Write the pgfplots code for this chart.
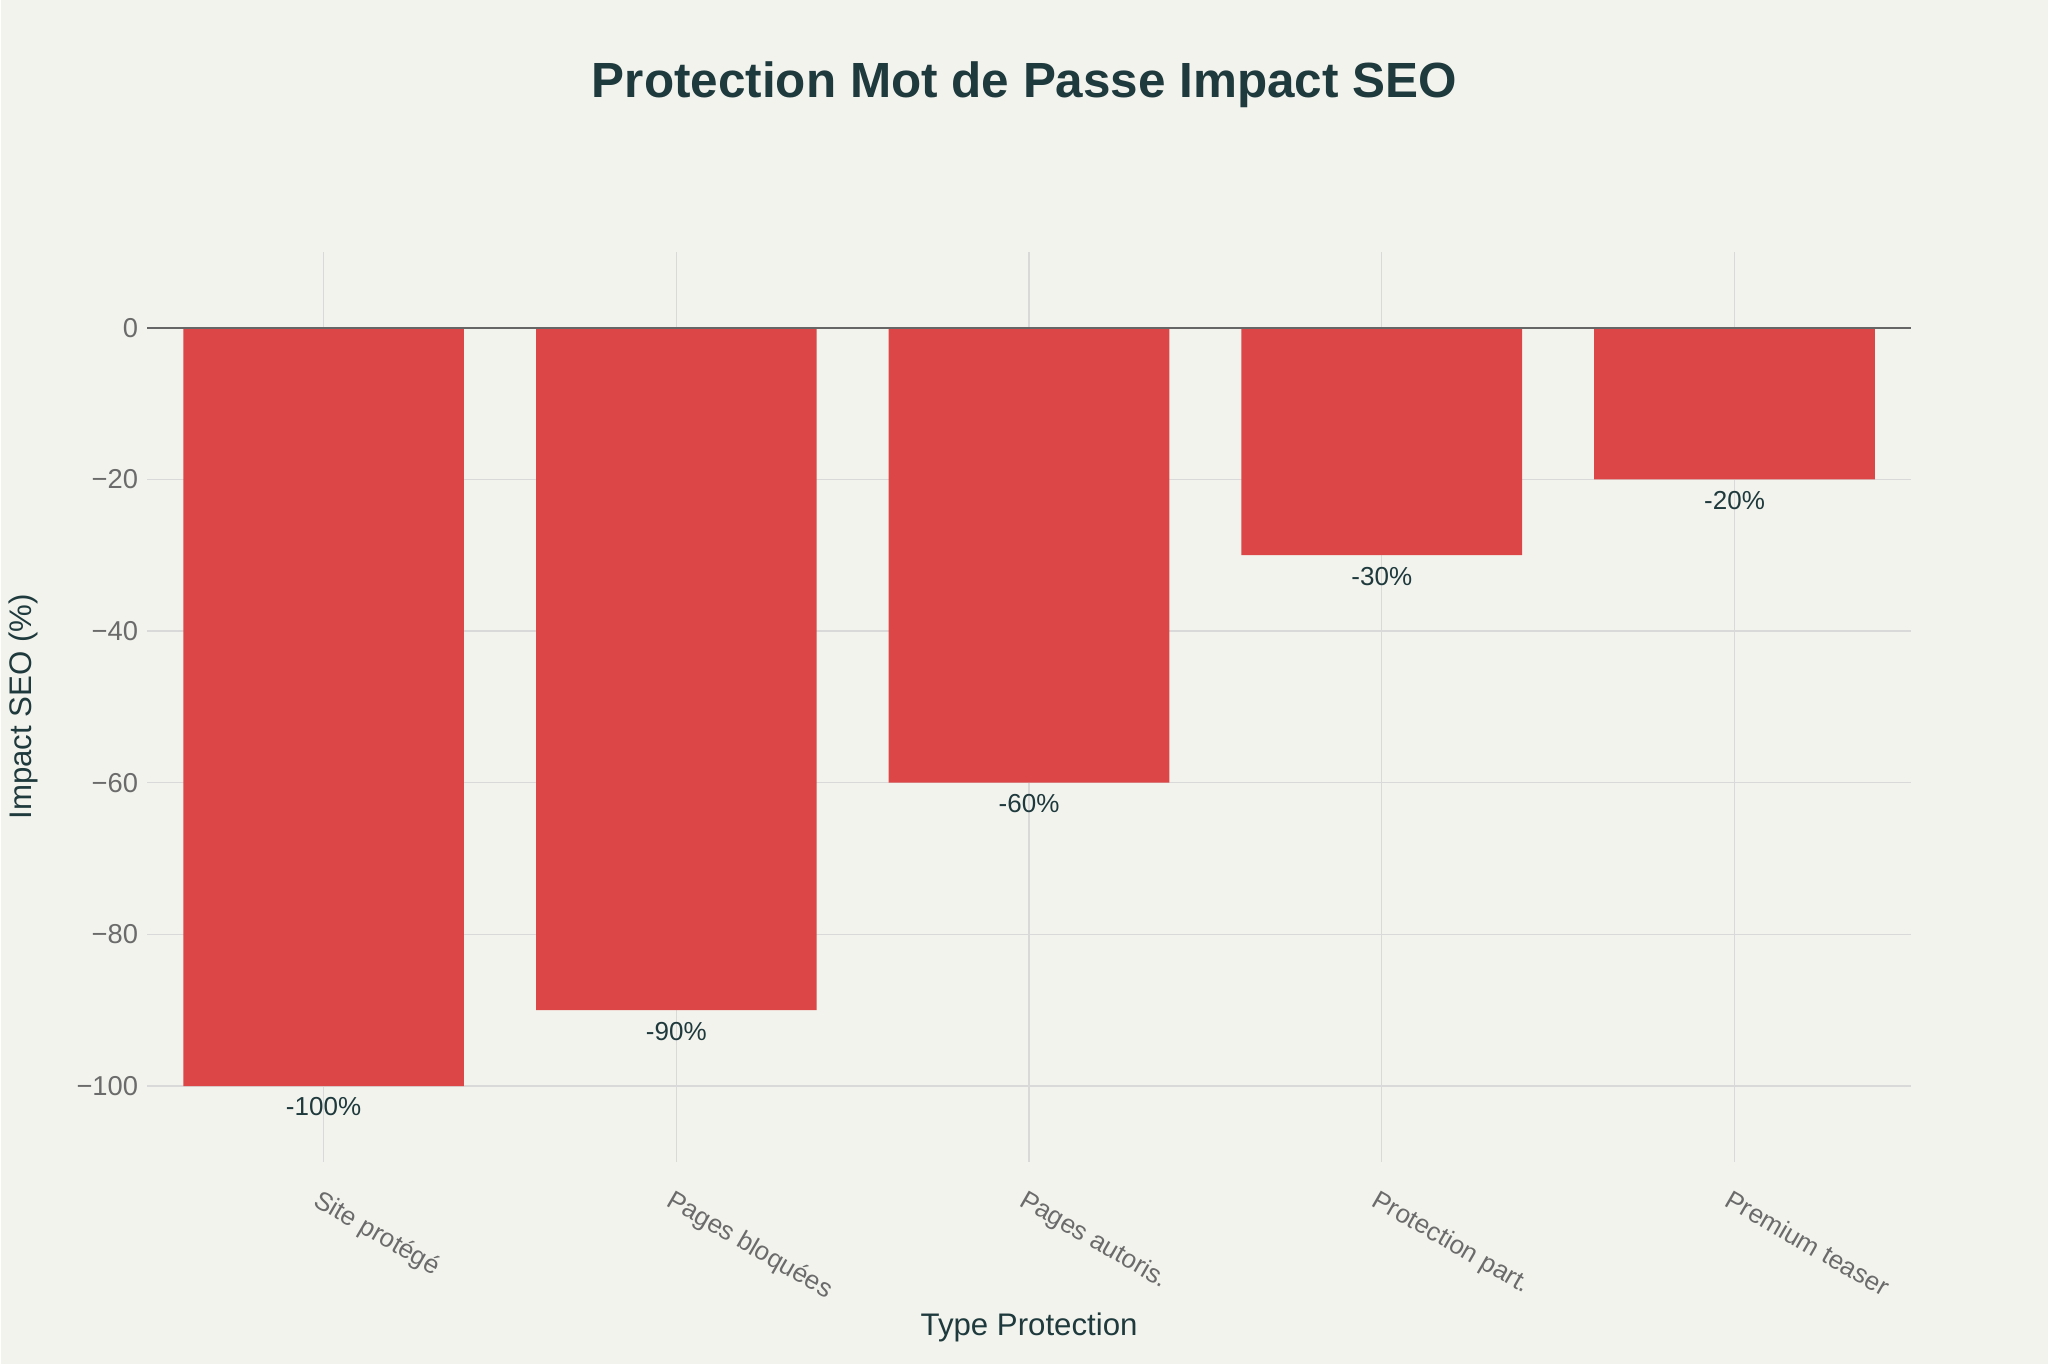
\documentclass[border=0pt]{standalone}
\usepackage{pgfplots}
\pgfplotsset{compat=1.18}
\usepackage{fontspec}
\setmainfont{Liberation Sans}
\definecolor{bg}{HTML}{F3F3EE}
\definecolor{barc}{HTML}{DC4646}
\definecolor{ttl}{HTML}{1F3A3D}
\definecolor{tick}{HTML}{6B6B6B}
\begin{document}
\begin{tikzpicture}[x=1bp,y=1bp]
\fill[bg] (0,0) rectangle (784,522.5);
\node[font=\bfseries\fontsize{19}{22}\selectfont,text=ttl] at (392,490) {Protection Mot de Passe Impact SEO};
\begin{axis}[at={(56bp,77.5bp)},anchor=south west,scale only axis,
 width=675.5bp,height=348.5bp,
 xmin=-0.5,xmax=4.5,ymin=-110,ymax=10,
 axis line style={draw=none},tick style={draw=none},
 ybar,bar width=107.5bp,
 xtick={0,1,2,3,4},
 xticklabels={Site protégé,Pages bloquées,Pages autoris.,Protection part.,Premium teaser},
 xticklabel style={rotate=-30,anchor=north west,font=\fontsize{10}{12}\selectfont,text=tick,xshift=-1bp,yshift=-2bp},
 ytick={-100,-80,-60,-40,-20,0},
 yticklabels={−100,−80,−60,−40,−20,0},
 yticklabel style={font=\fontsize{10.5}{12}\selectfont,text=tick},
 grid=major,major grid style={color=black!15,line width=0.5pt},
 point meta=explicit symbolic,
 nodes near coords,
 every node near coord/.append style={font=\fontsize{10}{12}\selectfont,text=ttl,anchor=north,yshift=-1bp},
 xlabel={Type Protection},ylabel={Impact SEO (\%)},
 xlabel style={font=\fontsize{12}{14}\selectfont,text=ttl,yshift=4.5bp},
 ylabel style={font=\fontsize{12}{14}\selectfont,text=ttl,yshift=8bp},
 clip=false]
\addplot[fill=barc,draw=none] coordinates {(0,-100)[-100\%] (1,-90)[-90\%] (2,-60)[-60\%] (3,-30)[-30\%] (4,-20)[-20\%]};
\draw[black!60,line width=0.6pt] (axis cs:-0.5,0) -- (axis cs:4.5,0);
\end{axis}
\end{tikzpicture}
\end{document}
